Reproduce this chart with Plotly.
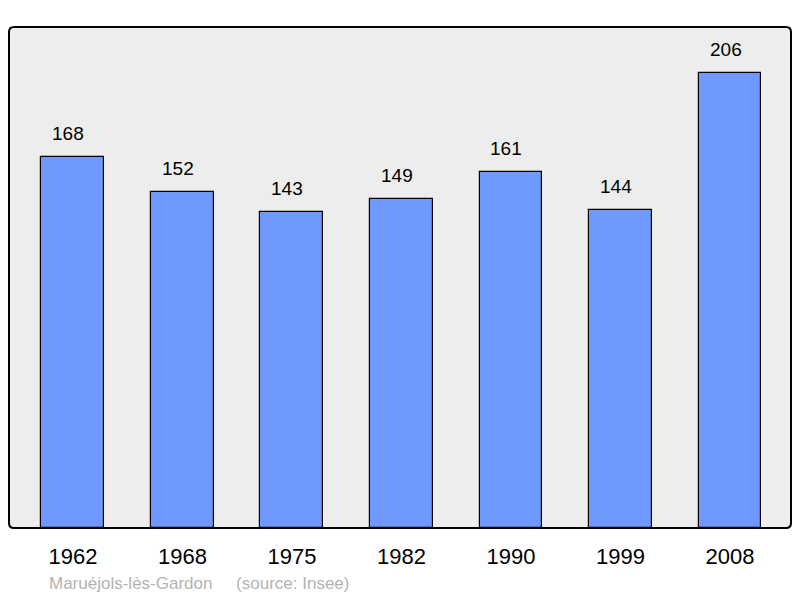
import plotly.graph_objects as go

years = ["1962", "1968", "1975", "1982", "1990", "1999", "2008"]
population = [168, 152, 143, 149, 161, 144, 206]
footer = "Maruéjols-lès-Gardon    (source: Insee)"

FONT = "Liberation Sans, Arial, sans-serif"

fig = go.Figure()
fig.add_trace(go.Bar(
    x=list(range(len(years))), y=population,
    width=0.575,
    marker=dict(color="#7099ff", line=dict(color="#000000", width=1.2)),
    hoverinfo="skip",
))

for i, v in enumerate(population):
    fig.add_annotation(x=i, y=v, text=str(v), showarrow=False,
                       yanchor="bottom", yshift=11, xshift=-4.5,
                       font=dict(family=FONT, size=19, color="#000"))

fig.add_annotation(xref="paper", yref="paper", x=0.049, y=-0.111, xanchor="left", yanchor="middle",
                   text=footer.replace("    ", "&nbsp;&nbsp;&nbsp;&nbsp;&nbsp;"), showarrow=False,
                   font=dict(family=FONT, size=17, color="#b3b3b3"))

# frame with rounded corners
W, H = 782.0, 501.0
rx, ry = 5 / W, 5 / H
path = (f"M {rx},0 L {1-rx},0 Q 1,0 1,{ry} L 1,{1-ry} Q 1,1 {1-rx},1 "
        f"L {rx},1 Q 0,1 0,{1-ry} L 0,{ry} Q 0,0 {rx},0 Z")
fig.add_shape(type="path", xref="paper", yref="paper", path=path,
              line=dict(width=0), fillcolor="#ededed", layer="below")
fig.add_shape(type="path", xref="paper", yref="paper", path=path,
              line=dict(color="#000", width=2), fillcolor="rgba(0,0,0,0)", layer="above")

fig.update_layout(
    width=800, height=598,
    margin=dict(l=9, r=9, t=27, b=70),
    paper_bgcolor="#ffffff",
    plot_bgcolor="rgba(0,0,0,0)",
    showlegend=False,
    xaxis=dict(range=[-0.584, 6.557], showgrid=False, zeroline=False,
               tickmode="array", tickvals=list(range(len(years))), ticktext=years,
               ticks="outside", ticklen=9, tickcolor="rgba(0,0,0,0)",
               tickfont=dict(family=FONT, size=22, color="#000")),
    yaxis=dict(range=[0, 226.8], showgrid=False, zeroline=False, showticklabels=False),
    bargap=0,
)

fig.write_html("out.html", config={"displayModeBar": False},
               post_script="document.body.style.margin='0';")
